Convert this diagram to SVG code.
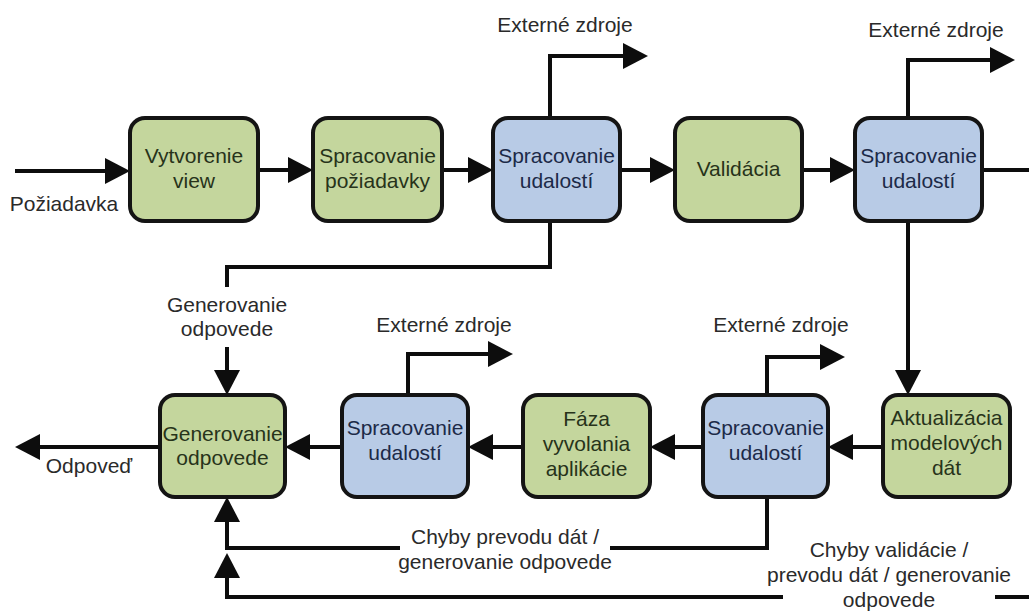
<svg xmlns="http://www.w3.org/2000/svg" width="1029" height="613" viewBox="0 0 1029 613">
<style>
.box{stroke:#141414;stroke-width:4}
.g{fill:#c4d69d}
.b{fill:#b8cbe6}
text{font-family:"Liberation Sans",Arial,sans-serif;font-size:21px;text-anchor:middle}
.tg{fill:#27331a}
.tb{fill:#1c2a48}
.lbl{fill:#2a2a2a}
.c{fill:none;stroke:#0d0d0d;stroke-width:4}
.ca{fill:none;stroke:#0d0d0d;stroke-width:4;marker-end:url(#ah)}
</style>
<defs>
<marker id="ah" markerUnits="userSpaceOnUse" viewBox="0 0 25 26" markerWidth="25" markerHeight="26" refX="15" refY="13" orient="auto">
<path d="M0,0 L25,13 L0,26 z" fill="#0d0d0d"/>
</marker>
</defs>
<rect width="1029" height="613" fill="#ffffff"/>

<g id="connectors">
<path class="ca" d="M15,171 H120"/>
<path class="ca" d="M258,170 H303"/>
<path class="ca" d="M442,170 H483"/>
<path class="ca" d="M620,170 H665"/>
<path class="ca" d="M802,170 H845"/>
<path class="c" d="M982,170 H1029"/>
<path class="ca" d="M550,118 V56 H638"/>
<path class="ca" d="M908,118 V60 H1005"/>
<path class="ca" d="M908,221 V385"/>
<path class="c" d="M550,221 V267 H227 V287"/>
<path class="ca" d="M227,347 V385"/>
<path class="ca" d="M883,447 H838"/>
<path class="ca" d="M703,447 H660"/>
<path class="ca" d="M523,447 H478"/>
<path class="ca" d="M342,447 H295"/>
<path class="ca" d="M160,447 H25"/>
<path class="ca" d="M408,395 V354 H503"/>
<path class="ca" d="M767,395 V357 H835"/>
<path class="c" d="M767,497 V548 H610"/>
<path class="ca" d="M400,548 H227 V507"/>
<path class="c" d="M1029,597 H995"/>
<path class="ca" d="M783,597 H227 V563"/>
<text class="lbl" x="64" y="211">Požiadavka</text>
<text class="lbl" x="565" y="32">Externé zdroje</text>
<text class="lbl" x="936" y="37">Externé zdroje</text>
<text class="lbl" x="227" y="312">Generovanie</text>
<text class="lbl" x="227" y="336">odpovede</text>
<text class="lbl" x="444" y="332">Externé zdroje</text>
<text class="lbl" x="781" y="332">Externé zdroje</text>
<text class="lbl" x="89" y="473">Odpoveď</text>
<text class="lbl" x="505" y="544">Chyby prevodu dát /</text>
<text class="lbl" x="505" y="569">generovanie odpovede</text>
<text class="lbl" x="889" y="557">Chyby validácie /</text>
<text class="lbl" x="889" y="582">prevodu dát / generovanie</text>
<text class="lbl" x="889" y="607">odpovede</text>
</g>

<g id="n-vytvorenie">
<rect class="box g" x="130" y="118" width="128" height="103" rx="15"/>
<text class="tg" x="194" y="163">Vytvorenie</text>
<text class="tg" x="194" y="188">view</text>
</g>
<g id="n-spracovanie-poziadavky">
<rect class="box g" x="313" y="118" width="129" height="103" rx="15"/>
<text class="tg" x="377.5" y="163">Spracovanie</text>
<text class="tg" x="377.5" y="188">požiadavky</text>
</g>
<g id="n-udalosti-1">
<rect class="box b" x="493" y="118" width="127" height="103" rx="15"/>
<text class="tb" x="556.5" y="163">Spracovanie</text>
<text class="tb" x="556.5" y="188">udalostí</text>
</g>
<g id="n-validacia">
<rect class="box g" x="675" y="118" width="127" height="103" rx="15"/>
<text class="tg" x="738.5" y="176">Validácia</text>
</g>
<g id="n-udalosti-2">
<rect class="box b" x="855" y="118" width="127" height="103" rx="15"/>
<text class="tb" x="918.5" y="163">Spracovanie</text>
<text class="tb" x="918.5" y="188">udalostí</text>
</g>

<g id="n-generovanie">
<rect class="box g" x="160" y="395" width="125" height="102" rx="15"/>
<text class="tg" x="222.5" y="441">Generovanie</text>
<text class="tg" x="222.5" y="465">odpovede</text>
</g>
<g id="n-udalosti-3">
<rect class="box b" x="342" y="395" width="126" height="102" rx="15"/>
<text class="tb" x="405" y="435">Spracovanie</text>
<text class="tb" x="405" y="460">udalostí</text>
</g>
<g id="n-faza">
<rect class="box g" x="523" y="395" width="127" height="102" rx="15"/>
<text class="tg" x="586.5" y="426">Fáza</text>
<text class="tg" x="586.5" y="451">vyvolania</text>
<text class="tg" x="586.5" y="476">aplikácie</text>
</g>
<g id="n-udalosti-4">
<rect class="box b" x="703" y="395" width="125" height="102" rx="15"/>
<text class="tb" x="765.5" y="435">Spracovanie</text>
<text class="tb" x="765.5" y="460">udalostí</text>
</g>
<g id="n-aktualizacia">
<rect class="box g" x="883" y="395" width="127" height="102" rx="15"/>
<text class="tg" x="946.5" y="425">Aktualizácia</text>
<text class="tg" x="946.5" y="450">modelových</text>
<text class="tg" x="946.5" y="475">dát</text>
</g>
</svg>
